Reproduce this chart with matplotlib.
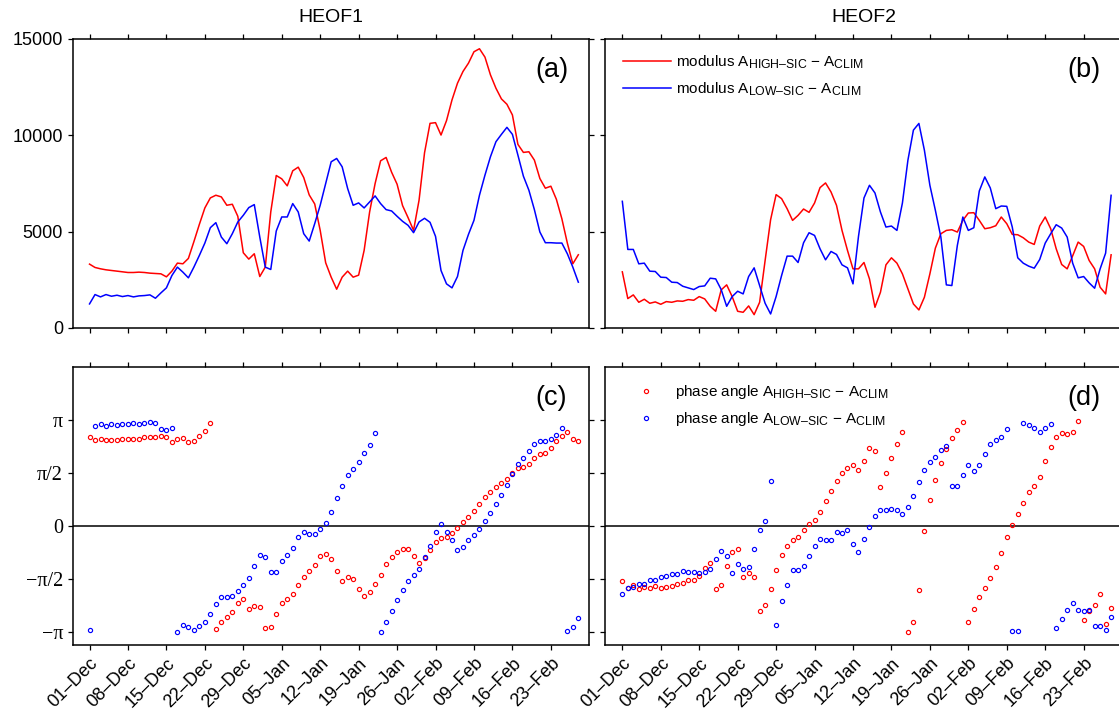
import numpy as np
import matplotlib
matplotlib.use("Agg")
import matplotlib.pyplot as plt
try:
    import matplotlib._mathtext as _mt
    _mt.SHRINK_FACTOR = 0.8
except Exception:
    pass

plt.rcParams['font.family'] = ['Liberation Sans', 'DejaVu Sans']
plt.rcParams['mathtext.fontset'] = 'custom'
plt.rcParams['mathtext.rm'] = 'Liberation Sans'
plt.rcParams['mathtext.it'] = 'Liberation Sans:italic'
plt.rcParams['mathtext.bf'] = 'Liberation Sans:bold'

# ---------------- data ----------------
days = np.arange(90)  # 01-Dec ... 28-Feb
tick_days = [0, 7, 14, 21, 28, 35, 42, 49, 56, 63, 70, 77, 84]
tick_labels = ["01–Dec", "08–Dec", "15–Dec", "22–Dec", "29–Dec", "05–Jan", "12–Jan",
               "19–Jan", "26–Jan", "02–Feb", "09–Feb", "16–Feb", "23–Feb"]

mod_high_1 = [3312, 3139, 3069, 3017, 2982, 2948, 2913, 2878, 2878, 2896, 2878, 2844, 2826, 2809, 2653,
              2948, 3364, 3329, 3607, 4474, 5375, 6225, 6745, 6884, 6797, 6364, 6416, 5792, 3901, 3572,
              3850, 2670, 3156, 6017, 7907, 7734, 7370, 8150, 8340, 7803, 6901, 6433, 5063, 3381, 2636,
              2011, 2636, 2948, 2636, 2740, 4023, 6017, 7491, 8670, 8843, 8080, 7456, 6346, 5722, 5063,
              6624, 9086, 10612, 10647, 10005, 10751, 11826, 12693, 13300, 13733, 14323, 14479, 14045, 13126, 12433,
              11878, 11600, 11046, 9520, 9104, 9138, 8705, 7751, 7248, 7352, 6676, 5670, 4404, 3329, 3797]
mod_low_1 = [1249, 1734, 1613, 1734, 1647, 1699, 1630, 1682, 1613, 1665, 1682, 1717, 1543, 1821, 2081,
             2722, 3156, 2896, 2601, 3156, 3763, 4404, 5202, 5462, 4716, 4370, 4890, 5497, 5844, 6242,
             6398, 4716, 3156, 3035, 5029, 5757, 5757, 6450, 6017, 4890, 4508, 5410, 6364, 7491, 8618,
             8791, 8358, 7231, 6364, 6485, 6225, 6537, 6849, 6450, 6138, 6069, 5792, 5531, 5324, 4942,
             5497, 5688, 5480, 4751, 2982, 2289, 2081, 2670, 4023, 4855, 5583, 6884, 7924, 8878, 9658,
             10040, 10404, 10040, 8965, 7872, 7144, 6138, 4977, 4422, 4422, 4404, 4404, 3850, 3156, 2376]
mod_high_2 = [2911, 1525, 1716, 1334, 1490, 1282, 1352, 1230, 1369, 1334, 1404, 1386, 1473, 1438, 1629,
              1508, 1126, 867, 1976, 2236, 1629, 867, 815, 1144, 693, 1334, 3501, 5615, 6915, 6707,
              6187, 5580, 5840, 6169, 5996, 6481, 7279, 7521, 7053, 6360, 5060, 4021, 3067, 3067, 3397,
              2547, 1074, 1854, 3275, 3639, 3362, 2807, 2027, 1248, 936, 1594, 2807, 4142, 4887, 5060,
              5095, 4974, 5580, 5962, 5979, 5580, 5147, 5199, 5303, 5754, 5407, 4852, 4835, 4679, 4454,
              4333, 5286, 5754, 5147, 4107, 3293, 3067, 3743, 4454, 4229, 3501, 3067, 2114, 1768, 3795]
mod_low_2 = [6568, 4073, 4073, 3327, 3362, 2946, 2929, 2634, 2617, 2374, 2357, 2166, 2080, 1993, 2149,
             2184, 2582, 2547, 1993, 1126, 1629, 1906, 1768, 2669, 3119, 2201, 1282, 728, 1629, 2721,
             3726, 3726, 3397, 4419, 4939, 4800, 4107, 3535, 3969, 3813, 3275, 3119, 2288, 4748, 6741,
             7400, 7001, 6014, 5234, 5286, 5060, 6481, 8700, 10259, 10606, 9220, 7400, 6100, 4714, 2236,
             2201, 4281, 5754, 5060, 5199, 7105, 7833, 7261, 6187, 6325, 6308, 5234, 3639, 3362, 3206,
             3102, 3553, 4402, 4887, 5355, 5182, 4714, 3362, 2600, 2669, 2340, 2062, 3067, 3882, 6880]

# phase angles in units of pi
ph_high_1 = [0.841, 0.809, 0.819, 0.809, 0.816, 0.813, 0.822, 0.819, 0.822, 0.825, 0.838, 0.838, 0.844, 0.850, 0.838,
             0.794, 0.819, 0.828, 0.797, 0.803, 0.847, 0.901, 0.970, -0.970, -0.907, -0.863, -0.813, -0.724, -0.690, -0.781,
             -0.753, -0.765, -0.967, -0.951, -0.828, -0.724, -0.690, -0.639, -0.561, -0.482, -0.428, -0.369, -0.280, -0.268, -0.309,
             -0.422, -0.517, -0.485, -0.501, -0.598, -0.661, -0.620, -0.545, -0.460, -0.359, -0.293, -0.246, -0.217, -0.220, -0.280,
             -0.350, -0.306, -0.230, -0.148, -0.117, -0.107, -0.063, -0.019, 0.035, 0.088, 0.142, 0.205, 0.271, 0.324, 0.365,
             0.406, 0.447, 0.504, 0.545, 0.554, 0.589, 0.639, 0.683, 0.693, 0.734, 0.803, 0.850, 0.891, 0.825, 0.806]
ph_low_1 = [-0.983, 0.948, 0.961, 0.948, 0.961, 0.957, 0.967, 0.967, 0.973, 0.967, 0.970, 0.986, 0.970, 0.917, 0.907,
            0.923, -0.999, -0.932, -0.954, -0.983, -0.945, -0.904, -0.831, -0.740, -0.668, -0.674, -0.665, -0.617, -0.554, -0.491,
            -0.381, -0.274, -0.290, -0.435, -0.435, -0.328, -0.274, -0.205, -0.101, -0.054, -0.079, -0.079, -0.031, 0.028, 0.135,
            0.261, 0.375, 0.479, 0.539, 0.605, 0.690, 0.762, 0.882, -0.999, -0.907, -0.803, -0.696, -0.608, -0.523, -0.466,
            -0.403, -0.293, -0.186, -0.060, 0.016, -0.060, -0.129, -0.230, -0.195, -0.132, -0.088, -0.031, 0.047, 0.120, 0.208,
            0.296, 0.391, 0.494, 0.583, 0.646, 0.712, 0.775, 0.806, 0.806, 0.822, 0.863, 0.929, -0.995, -0.954, -0.866]
ph_high_2 = [-0.523, -0.583, -0.561, -0.595, -0.576, -0.586, -0.570, -0.589, -0.573, -0.570, -0.545, -0.539, -0.510, -0.507, -0.472,
             -0.400, -0.350, -0.595, -0.557, -0.375, -0.246, -0.214, -0.482, -0.441, -0.479, -0.800, -0.746, -0.595, -0.416, -0.277,
             -0.186, -0.129, -0.104, -0.035, 0.019, 0.057, 0.132, 0.233, 0.331, 0.428, 0.504, 0.551, 0.573, 0.526, 0.617,
             0.734, 0.712, 0.372, 0.498, 0.646, 0.772, 0.891, -0.998, -0.904, -0.602, -0.044, 0.246, 0.431, 0.595, 0.724,
             0.831, 0.907, 0.980, -0.910, -0.787, -0.668, -0.586, -0.488, -0.387, -0.258, -0.101, 0.006, 0.110, 0.220, 0.321,
             0.381, 0.460, 0.611, 0.750, 0.844, 0.882, 0.872, 0.888, 0.989, -0.891, -0.800, -0.750, -0.646, -0.929, -0.772]
ph_low_2 = [-0.639, -0.583, -0.580, -0.548, -0.545, -0.510, -0.507, -0.479, -0.476, -0.450, -0.454, -0.428, -0.435, -0.435, -0.447,
            -0.431, -0.406, -0.312, -0.236, -0.280, -0.447, -0.359, -0.403, -0.384, -0.214, -0.035, 0.050, 0.428, -0.935, -0.709,
            -0.557, -0.416, -0.413, -0.378, -0.280, -0.189, -0.123, -0.129, -0.129, -0.057, -0.063, -0.038, -0.170, -0.243, -0.123,
            -0.006, 0.094, 0.151, 0.154, 0.161, 0.151, 0.113, 0.183, 0.287, 0.413, 0.529, 0.602, 0.655, 0.718, 0.753,
            0.375, 0.378, 0.482, 0.576, 0.520, 0.573, 0.677, 0.775, 0.813, 0.841, 0.920, -0.992, -0.992, 0.970, 0.957,
            0.929, 0.888, 0.926, 0.967, -0.964, -0.879, -0.794, -0.728, -0.794, -0.806, -0.790, -0.945, -0.945, -0.983, -0.863]

titles = ["HEOF1", "HEOF2"]
panel_tags = ["(a)", "(b)", "(c)", "(d)"]
leg_mod = ["modulus A$_{\\mathrm{HIGH–SIC}}$ − A$_{\\mathrm{CLIM}}$",
           "modulus A$_{\\mathrm{LOW–SIC}}$ − A$_{\\mathrm{CLIM}}$"]
leg_ph = ["phase angle A$_{\\mathrm{HIGH–SIC}}$ − A$_{\\mathrm{CLIM}}$",
          "phase angle A$_{\\mathrm{LOW–SIC}}$ − A$_{\\mathrm{CLIM}}$"]
pi_ticks = [-np.pi, -np.pi / 2, 0, np.pi / 2, np.pi]
pi_labels = ["−π", "−π/2", "0", "π/2", "π"]

RED = "#FF0000"
BLUE = "#0000FF"

# ---------------- figure ----------------
W, H = 1119, 717
fig = plt.figure(figsize=(W / 100, H / 100), dpi=100)

def px_axes(x0, x1, ytop, ybot):
    return fig.add_axes([x0 / W, 1 - ybot / H, (x1 - x0) / W, (ybot - ytop) / H])

ax_a = px_axes(72.5, 589.3, 38.7, 328.0)
ax_b = px_axes(605.3, 1122.1, 38.7, 328.0)
ax_c = px_axes(72.5, 589.3, 367.3, 645.0)
ax_d = px_axes(605.3, 1122.1, 367.3, 645.0)
axes = [ax_a, ax_b, ax_c, ax_d]

for ax in axes:
    ax.set_xlim(-3.1, 91.0)
    ax.set_xticks(tick_days)
    for s in ax.spines.values():
        s.set_linewidth(1.1)
    ax.tick_params(direction='out', length=3.8, width=0.9, top=True, right=True,
                   labelsize=13, pad=3)

# top panels
for ax, hi, lo in [(ax_a, mod_high_1, mod_low_1), (ax_b, mod_high_2, mod_low_2)]:
    ax.plot(days, hi, color=RED, lw=1.1, label=leg_mod[0])
    ax.plot(days, lo, color=BLUE, lw=1.1, label=leg_mod[1])
    ax.set_ylim(0, 15000)
    ax.set_yticks([0, 5000, 10000, 15000])
    ax.tick_params(labelbottom=False)

ax_a.set_yticklabels(["0", "5000", "10000", "15000"])
ax_b.tick_params(labelleft=False)

# bottom panels
for ax, hi, lo in [(ax_c, ph_high_1, ph_low_1), (ax_d, ph_high_2, ph_low_2)]:
    ax.axhline(0, color='black', lw=1.1, zorder=1)
    ax.plot(days, np.array(hi) * np.pi, ls='none', marker='o', ms=3.0, mew=0.85,
            mfc='none', mec=RED, label=leg_ph[0], zorder=3)
    ax.plot(days, np.array(lo) * np.pi, ls='none', marker='o', ms=3.0, mew=0.85,
            mfc='none', mec=BLUE, label=leg_ph[1], zorder=3)
    ax.set_ylim(-1.125 * np.pi, 1.5 * np.pi)
    ax.set_yticks(pi_ticks)
    ax.set_xticklabels(tick_labels, rotation=45, ha='right', va='top',
                       rotation_mode='anchor', fontsize=13)

ax_c.set_yticklabels(pi_labels, fontfamily='Liberation Serif', fontsize=14.5)
ax_d.tick_params(labelleft=False)

for ax, t in zip([ax_a, ax_b], titles):
    ax.text(0.5, 1 + (38.7 - 17.5) / 289.3, t, transform=ax.transAxes,
            ha='center', va='center', fontsize=14)

for ax, tag in zip(axes, panel_tags):
    ax.text(0.927, 0.891, tag, transform=ax.transAxes, ha='center', va='center',
            fontsize=19.5)

ax_b.legend(loc='upper left', bbox_to_anchor=(0.034, 0.948), frameon=False,
            fontsize=11.0, handlelength=3.15, handletextpad=0.33, borderpad=0,
            borderaxespad=0, labelspacing=0.62)
ax_d.legend(loc='upper left', bbox_to_anchor=(0.044, 0.944), frameon=False,
            fontsize=11.0, handlelength=2.35, handletextpad=0.7, borderpad=0,
            borderaxespad=0, labelspacing=0.62, numpoints=1, markerscale=1.0)

fig.savefig("out.png", dpi=100)
